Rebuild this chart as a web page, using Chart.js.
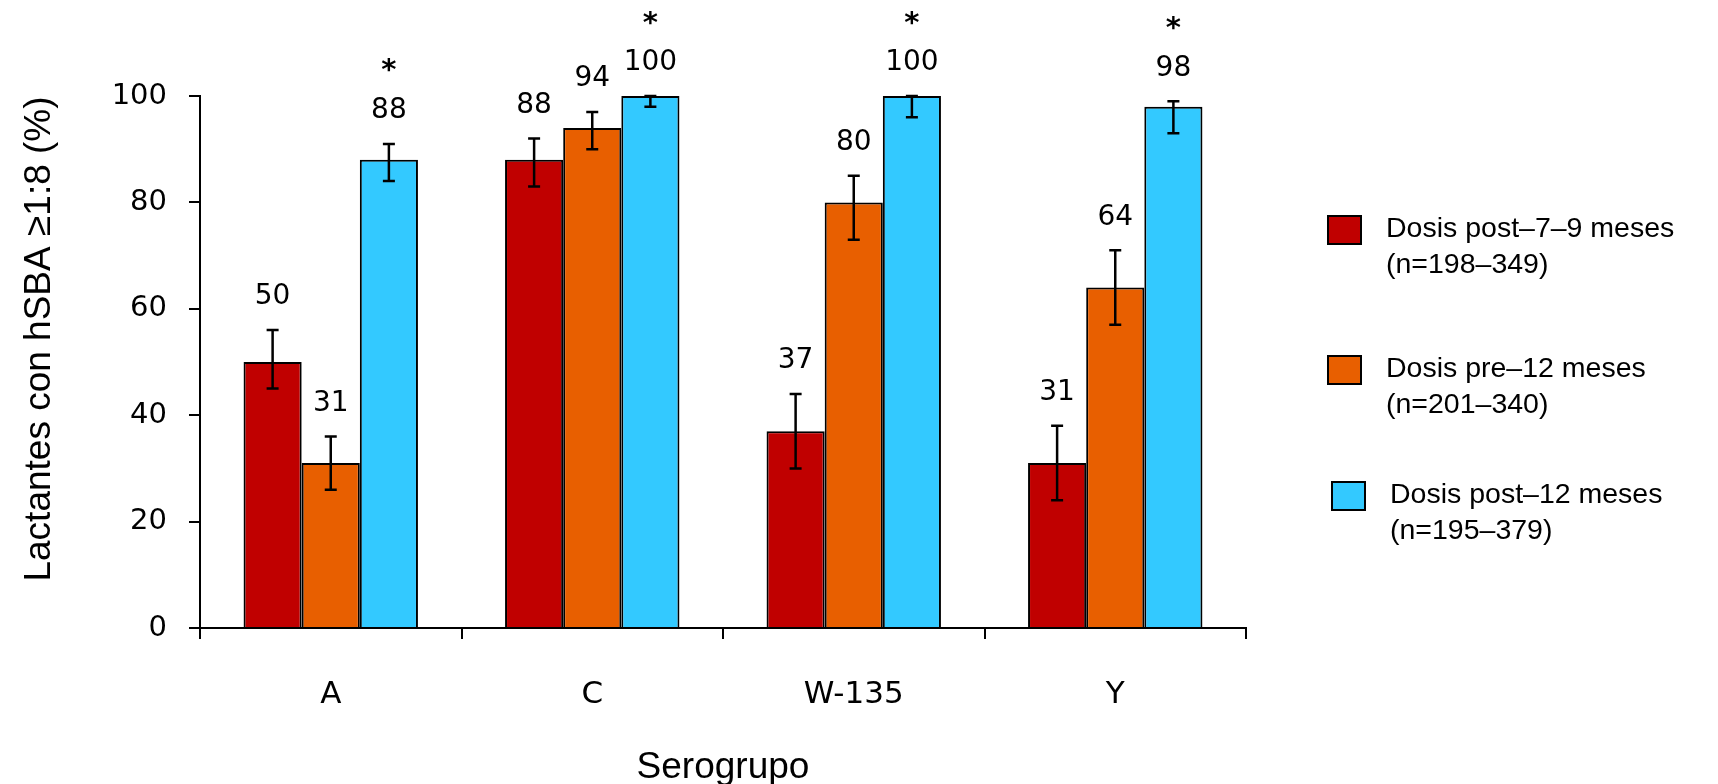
<!DOCTYPE html>
<html>
<head>
<meta charset="utf-8">
<script src="https://cdn.jsdelivr.net/npm/chart.js@4.4.1/dist/chart.umd.min.js"></script>
<style>
  html, body { margin: 0; padding: 0; background: #fff; }
  #wrap { width: 1718px; height: 784px; }
</style>
</head>
<body>
<div id="wrap"><canvas id="chartSerogrupo"></canvas></div>
<script>
// Serogroup response data (% of infants with hSBA >= 1:8)
const serogroups = ['A', 'C', 'W-135', 'Y'];
const seriesNames = ['Dosis post–7–9 meses', 'Dosis pre–12 meses', 'Dosis post–12 meses'];
const seriesN = ['(n=198–349)', '(n=201–340)', '(n=195–379)'];
const seriesColors = ['#c00000', '#e85f00', '#33c9ff'];

const post79 = [50, 88, 37, 31];
const post79Low = [45, 83, 30, 24];
const post79High = [56, 92, 44, 38];

const pre12 = [31, 94, 80, 64];
const pre12Low = [26, 90, 73, 57];
const pre12High = [36, 97, 85, 71];

const post12 = [88, 100, 100, 98];
const post12Low = [84, 98, 96, 93];
const post12High = [91, 100, 100, 99];
const post12Signif = [true, true, true, true];

const yTicks = [0, 20, 40, 60, 80, 100];

Chart.defaults.font.family = '"DejaVu Sans", sans-serif';
Chart.defaults.color = '#000';

// error bars, value labels and significance stars
const errorBars = {
  id: 'errorBars',
  afterDatasetsDraw(chart) {
    const ctx = chart.ctx;
    const y = chart.scales.y;
    ctx.save();
    chart.data.datasets.forEach((ds, i) => {
      const meta = chart.getDatasetMeta(i);
      meta.data.forEach((bar, j) => {
        const top = y.getPixelForValue(ds.errHigh[j]);
        const bottom = y.getPixelForValue(ds.errLow[j]);
        ctx.strokeStyle = '#000';
        ctx.lineWidth = 2.5;
        ctx.beginPath();
        ctx.moveTo(bar.x, top);
        ctx.lineTo(bar.x, bottom);
        ctx.moveTo(bar.x - 6, top);
        ctx.lineTo(bar.x + 6, top);
        ctx.moveTo(bar.x - 6, bottom);
        ctx.lineTo(bar.x + 6, bottom);
        ctx.stroke();

        ctx.fillStyle = '#000';
        ctx.textAlign = 'center';
        ctx.textBaseline = 'middle';
        ctx.font = '28px "DejaVu Sans"';
        const labelY = top - 33;
        ctx.fillText(String(ds.data[j]), bar.x, labelY);
        if (ds.signif && ds.signif[j]) {
          ctx.font = 'bold 29px "DejaVu Sans"';
          ctx.fillText('*', bar.x, labelY - 39);
        }
      });
    });
    ctx.restore();
  }
};

// legend on the right and the rotated y title
const legendRows = [230, 370, 496];
const legendShift = [0, 0, 4];
const sideLegend = {
  id: 'sideLegend',
  afterDraw(chart) {
    const ctx = chart.ctx;
    ctx.save();
    chart.data.datasets.forEach((ds, i) => {
      const cy = legendRows[i];
      const bx = 1328 + legendShift[i];
      ctx.fillStyle = ds.backgroundColor;
      ctx.fillRect(bx, cy - 14, 33, 28);
      ctx.strokeStyle = '#000';
      ctx.lineWidth = 2;
      ctx.strokeRect(bx, cy - 14, 33, 28);

      ctx.fillStyle = '#000';
      ctx.font = '28.5px "Liberation Sans"';
      ctx.textAlign = 'left';
      ctx.textBaseline = 'alphabetic';
      ctx.fillText(ds.label, bx + 58, cy + 7);
      ctx.fillText(seriesN[i], bx + 58, cy + 43);
    });

    ctx.translate(40, 339);
    ctx.rotate(-Math.PI / 2);
    ctx.font = '37px "Liberation Sans"';
    ctx.textAlign = 'center';
    ctx.textBaseline = 'middle';
    ctx.fillText('Lactantes con hSBA ≥1:8 (%)', 0, 0);
    ctx.restore();
  }
};

new Chart(document.getElementById('chartSerogrupo'), {
  type: 'bar',
  data: {
    labels: serogroups,
    datasets: [{
      label: seriesNames[0],
      data: post79,
      errLow: post79Low,
      errHigh: post79High,
      backgroundColor: seriesColors[0]
    }, {
      label: seriesNames[1],
      data: pre12,
      errLow: pre12Low,
      errHigh: pre12High,
      backgroundColor: seriesColors[1]
    }, {
      label: seriesNames[2],
      data: post12,
      errLow: post12Low,
      errHigh: post12High,
      signif: post12Signif,
      backgroundColor: seriesColors[2]
    }]
  },
  options: {
    responsive: true,
    maintainAspectRatio: false,
    animation: false,
    layout: { padding: { left: 0, top: 96, right: 472, bottom: 0 } },
    datasets: {
      bar: {
        categoryPercentage: 0.667,
        barPercentage: 1,
        borderColor: '#000',
        borderWidth: 2
      }
    },
    plugins: {
      legend: { display: false },
      tooltip: { enabled: false }
    },
    scales: {
      x: {
        grid: { offset: true, drawOnChartArea: false, color: '#000', tickLength: 11, lineWidth: 2 },
        border: { color: '#000', width: 2 },
        ticks: { color: '#000', font: { size: 31 }, padding: 37 },
        title: {
          display: true,
          text: 'Serogrupo',
          color: '#000',
          font: { family: '"Liberation Sans"', size: 37 },
          padding: { top: 0, bottom: -6 }
        },
        afterFit(scale) { scale.height = 156; }
      },
      y: {
        min: yTicks[0],
        max: yTicks[yTicks.length - 1],
        ticks: { stepSize: yTicks[1] - yTicks[0], color: '#000', font: { size: 29 }, padding: 22 },
        grid: { drawOnChartArea: false, color: '#000', tickLength: 11, lineWidth: 2 },
        border: { color: '#000', width: 2 },
        afterFit(scale) { scale.width = 200; }
      }
    }
  },
  plugins: [errorBars, sideLegend]
});
</script>
</body>
</html>
